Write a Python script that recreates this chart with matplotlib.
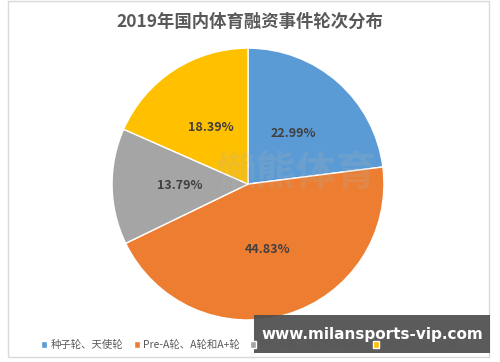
import matplotlib
matplotlib.use("Agg")
import matplotlib.pyplot as plt
from matplotlib.patches import Rectangle

plt.rcParams['font.family'] = ['Noto Sans CJK SC', 'DejaVu Sans']

# 数据
labels = ['种子轮、天使轮', 'Pre-A轮、A轮和A+轮', 'Pre-B轮、B轮及B轮后', '未透露/战略投资']
values = [22.99, 44.83, 13.79, 18.39]
colors = ['#5B9BD5', '#ED7D31', '#A5A5A5', '#FFC000']

fig = plt.figure(figsize=(5, 3.62), dpi=100)
fig.patch.set_facecolor('white')

# 外框
fig.patches.append(Rectangle((0.016, 0.014), 0.962, 0.982, transform=fig.transFigure,
                             fill=False, edgecolor='#d9d9d9', linewidth=1))

ax = fig.add_axes([0.224, 0.116, 0.544, 0.751])
wedges, texts, autotexts = ax.pie(values, colors=colors, startangle=90, counterclock=False,
                                  autopct='%.2f%%', pctdistance=0.5,
                                  wedgeprops=dict(edgecolor='white', linewidth=1),
                                  textprops=dict(color='#404040', fontsize=9, fontweight='bold'))
ax.set_xlim(-1.0, 1.0)
ax.set_ylim(-1.0, 1.0)
ax.set_aspect('equal')

# 水印（浅色）
ax.text(0.35, 0.07, '懒熊体育', fontsize=29, fontweight='bold', color='#b0b0b0', alpha=0.2,
        ha='center', va='center')

fig.text(0.5, 0.94, '2019年国内体育融资事件轮次分布', ha='center', va='center',
         fontsize=12.5, fontweight='bold', color='#595959')

fig.legend(wedges, labels, loc='center', bbox_to_anchor=(0.5, 0.047), ncol=4, frameon=False,
           fontsize=7.5, handlelength=0.6, handleheight=0.6, handletextpad=0.3, columnspacing=1.0,
           labelcolor='#595959')

# 网址水印
fig.patches.append(Rectangle((0.508, 0.025), 0.472, 0.105, transform=fig.transFigure,
                             facecolor='#4d4d4d', alpha=0.92, edgecolor='none', zorder=5))
fig.text(0.744, 0.077, 'www.milansports-vip.com', ha='center', va='center', color='white',
         fontsize=11, fontweight='bold', family=['DejaVu Sans'], zorder=6)

fig.savefig('out.png', dpi=100)
